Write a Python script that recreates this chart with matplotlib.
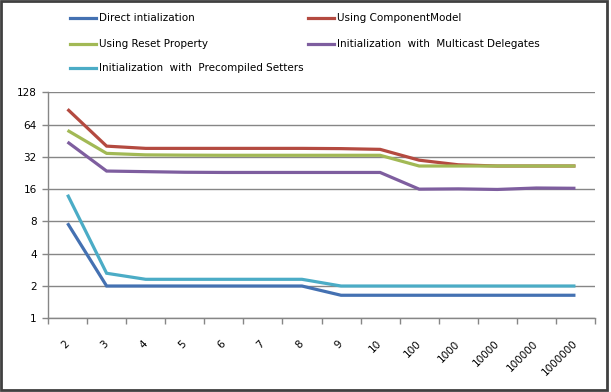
import matplotlib
matplotlib.use("Agg")
import matplotlib.pyplot as plt
from matplotlib.lines import Line2D
from matplotlib.patches import Rectangle
import numpy as np

plt.rcParams['font.family'] = ['DejaVu Sans']

categories = ["2", "3", "4", "5", "6", "7", "8", "9", "10", "100", "1000", "10000", "100000", "1000000"]
series_names = ["Direct intialization", "Using ComponentModel", "Using Reset Property",
                "Initialization  with  Multicast Delegates", "Initialization  with  Precompiled Setters"]
direct      = [7.7, 2.0, 2.0, 2.0, 2.0, 2.0, 2.0, 1.64, 1.64, 1.64, 1.64, 1.64, 1.64, 1.64]
component   = [89, 40.3, 38.4, 38.4, 38.4, 38.4, 38.4, 38.2, 37.6, 29.8, 27.0, 26.3, 26.3, 26.3]
reset       = [56.5, 34.5, 33.4, 33.2, 33.1, 33.1, 33.1, 33.1, 33.1, 26.3, 26.3, 26.3, 26.3, 26.3]
multicast   = [44, 23.6, 23.3, 23.0, 22.9, 22.9, 22.9, 22.9, 22.9, 16.0, 16.1, 15.9, 16.4, 16.3]
precompiled = [14.2, 2.63, 2.31, 2.31, 2.31, 2.31, 2.31, 2.0, 2.0, 2.0, 2.0, 2.0, 2.0, 2.0]
yticks = [1, 2, 4, 8, 16, 32, 64, 128]

colors = ["#4471B2", "#B44A40", "#A2B955", "#7E5E9F", "#4BACC6"]
data = [direct, component, reset, multicast, precompiled]

W, H = 611, 392
fig = plt.figure(figsize=(W/100, H/100), dpi=100)
ax = fig.add_axes([48/W, 1-318.3/H, (595-48)/W, (318.3-92.3)/H])

x = np.arange(len(categories))
for vals, c in zip(data, colors):
    ax.plot(x, vals, color=c, lw=2.3, solid_capstyle='butt', solid_joinstyle='miter', zorder=3)

ax.set_yscale('log', base=2)
ax.set_ylim(1, 128)
ax.set_yticks(yticks)
ax.set_yticklabels([str(v) for v in yticks])
ax.minorticks_off()
ax.set_xlim(-0.5, len(categories)-0.5)
ax.set_xticks(x)
ax.set_xticklabels(categories, rotation=45, ha='right', va='center', rotation_mode='anchor')
ax.set_xticks(np.arange(len(categories)+1)-0.5, minor=True)
ax.tick_params(axis='x', which='major', length=0, pad=17, labelsize=7.5, colors='#000000')
ax.tick_params(axis='x', which='minor', length=4, width=1, color='#868686', direction='out')
ax.tick_params(axis='y', which='major', length=4, width=1, color='#868686', pad=4, labelsize=7.5)
ax.grid(axis='y', which='major', color='#868686', lw=1)
ax.set_axisbelow(True)
for s in ['top', 'right']:
    ax.spines[s].set_visible(False)
for s in ['left', 'bottom']:
    ax.spines[s].set_color('#868686')
    ax.spines[s].set_linewidth(1)

# legend (manual layout)
rows = [18, 44, 68]
entries = [(0, 70, rows[0]), (1, 308, rows[0]), (2, 70, rows[1]), (3, 308, rows[1]), (4, 70, rows[2])]
for idx, lx, ly in entries:
    fig.add_artist(Line2D([lx/W, (lx+26)/W], [1-ly/H, 1-ly/H], color=colors[idx], lw=2.3,
                          transform=fig.transFigure))
    fig.text((lx+29)/W, 1-ly/H, series_names[idx], fontsize=7.5, va='center', ha='left')

# border
fig.add_artist(Rectangle((1/W, 2/H), (W-5)/W, (H-3)/H, transform=fig.transFigure,
                         fill=False, edgecolor='#404040', lw=2))

fig.savefig("out.png", dpi=100)
